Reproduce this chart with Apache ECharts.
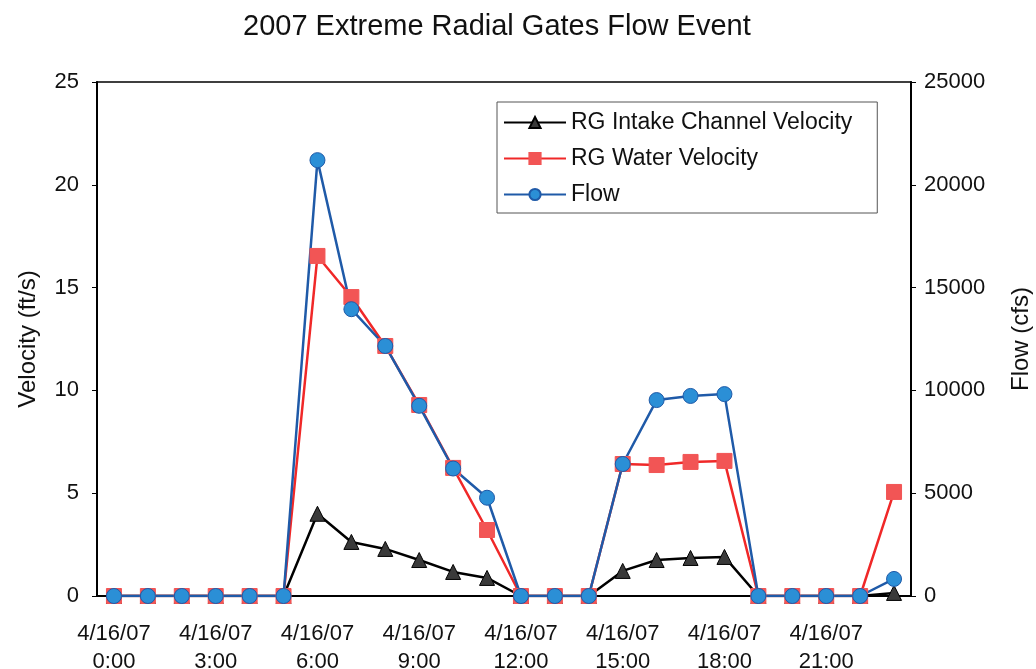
<!DOCTYPE html>
<html>
<head>
<meta charset="utf-8">
<script src="https://cdn.jsdelivr.net/npm/echarts@6/dist/echarts.min.js"></script>
<style>html,body{margin:0;padding:0;background:#fff}#c{width:1036px;height:669px}</style>
</head>
<body>
<div id="c"></div>
<script>
const categories = ['0:00','1:00','2:00','3:00','4:00','5:00','6:00','7:00','8:00','9:00','10:00','11:00','12:00','13:00','14:00','15:00','16:00','17:00','18:00','19:00','20:00','21:00','22:00','23:00'];
const datePrefix = '4/16/07';
const intakeVelocity = [0,0,0,0,0,0,4.0,2.63,2.29,1.75,1.17,0.88,0,0,0,1.22,1.75,1.85,1.9,0,0,0,0,0.15];
const waterVelocity = [0,0,0,0,0,0,16.54,14.54,12.16,9.29,6.23,3.21,0,0,0,6.42,6.37,6.52,6.57,0,0,0,0,5.06];
const flow = [0,0,0,0,0,0,21200,13950,12160,9250,6200,4780,0,0,0,6420,9530,9730,9820,0,0,0,0,830];
const velocityTicks = {min:0,max:25,interval:5};
const flowTicks = {min:0,max:25000,interval:5000};

const font = 'Liberation Sans, Arial, sans-serif';
const chart = echarts.init(document.getElementById('c'));
chart.setOption({
  animation:false,
  backgroundColor:'#fff',
  title:{text:'2007 Extreme Radial Gates Flow Event',left:238,top:7,
    textStyle:{fontFamily:font,fontSize:29,fontWeight:'normal',color:'#111'}},
  legend:{
    orient:'vertical',left:497,top:102,
    padding:[9,25,7,6],itemGap:13,itemWidth:62,itemHeight:14,
    borderColor:'#555',borderWidth:1,backgroundColor:'#fff',
    textStyle:{fontFamily:font,fontSize:23,color:'#111'},
    data:['RG Intake Channel Velocity','RG Water Velocity','Flow']
  },
  grid:{left:97,right:125,top:82,bottom:73,show:true,borderColor:'#000',borderWidth:1.5,outerBoundsMode:'none',containLabel:false},
  xAxis:{
    type:'category',data:categories,boundaryGap:true,
    axisLine:{lineStyle:{color:'#000',width:2}},
    axisTick:{interval:2,length:5,lineStyle:{color:'#000'}},
    axisLabel:{interval:2,fontFamily:font,fontSize:22,color:'#111',lineHeight:28,margin:24,
      formatter:v=>datePrefix+'\n'+v}
  },
  yAxis:[
    {type:'value',min:velocityTicks.min,max:velocityTicks.max,interval:velocityTicks.interval,
     name:'Velocity (ft/s)',nameLocation:'middle',nameGap:57,
     nameTextStyle:{fontFamily:font,fontSize:24,color:'#111'},
     axisLine:{show:true,lineStyle:{color:'#000',width:2}},
     axisTick:{show:true,inside:false,length:5,lineStyle:{color:'#000'}},
     splitLine:{show:false},
     axisLabel:{fontFamily:font,fontSize:22,color:'#111',margin:18}},
    {type:'value',min:flowTicks.min,max:flowTicks.max,interval:flowTicks.interval,
     name:'Flow (cfs)',nameLocation:'middle',nameGap:98,
     nameTextStyle:{fontFamily:font,fontSize:24,color:'#111'},
     axisLine:{show:true,lineStyle:{color:'#000',width:2}},
     axisTick:{show:true,length:5,lineStyle:{color:'#000'}},
     splitLine:{show:false},
     axisLabel:{fontFamily:font,fontSize:22,color:'#111',margin:13,formatter:v=>String(v)}}
  ],
  series:[
    {name:'RG Intake Channel Velocity',type:'line',data:intakeVelocity,yAxisIndex:0,
     symbol:'triangle',symbolSize:15,
     lineStyle:{color:'#000',width:2.5},
     itemStyle:{color:'#3a3a3a',borderColor:'#000',borderWidth:1}},
    {name:'RG Water Velocity',type:'line',data:waterVelocity,yAxisIndex:0,
     symbol:'rect',symbolSize:15,
     lineStyle:{color:'#f02828',width:2.5},
     itemStyle:{color:'#f25555',borderColor:'#f25555',borderWidth:1}},
    {name:'Flow',type:'line',data:flow,yAxisIndex:1,
     symbol:'circle',symbolSize:15,
     lineStyle:{color:'#1f5aa8',width:2.5},
     itemStyle:{color:'#2b8fd6',borderColor:'#1f5aa8',borderWidth:1}}
  ]
});
</script>
</body>
</html>
